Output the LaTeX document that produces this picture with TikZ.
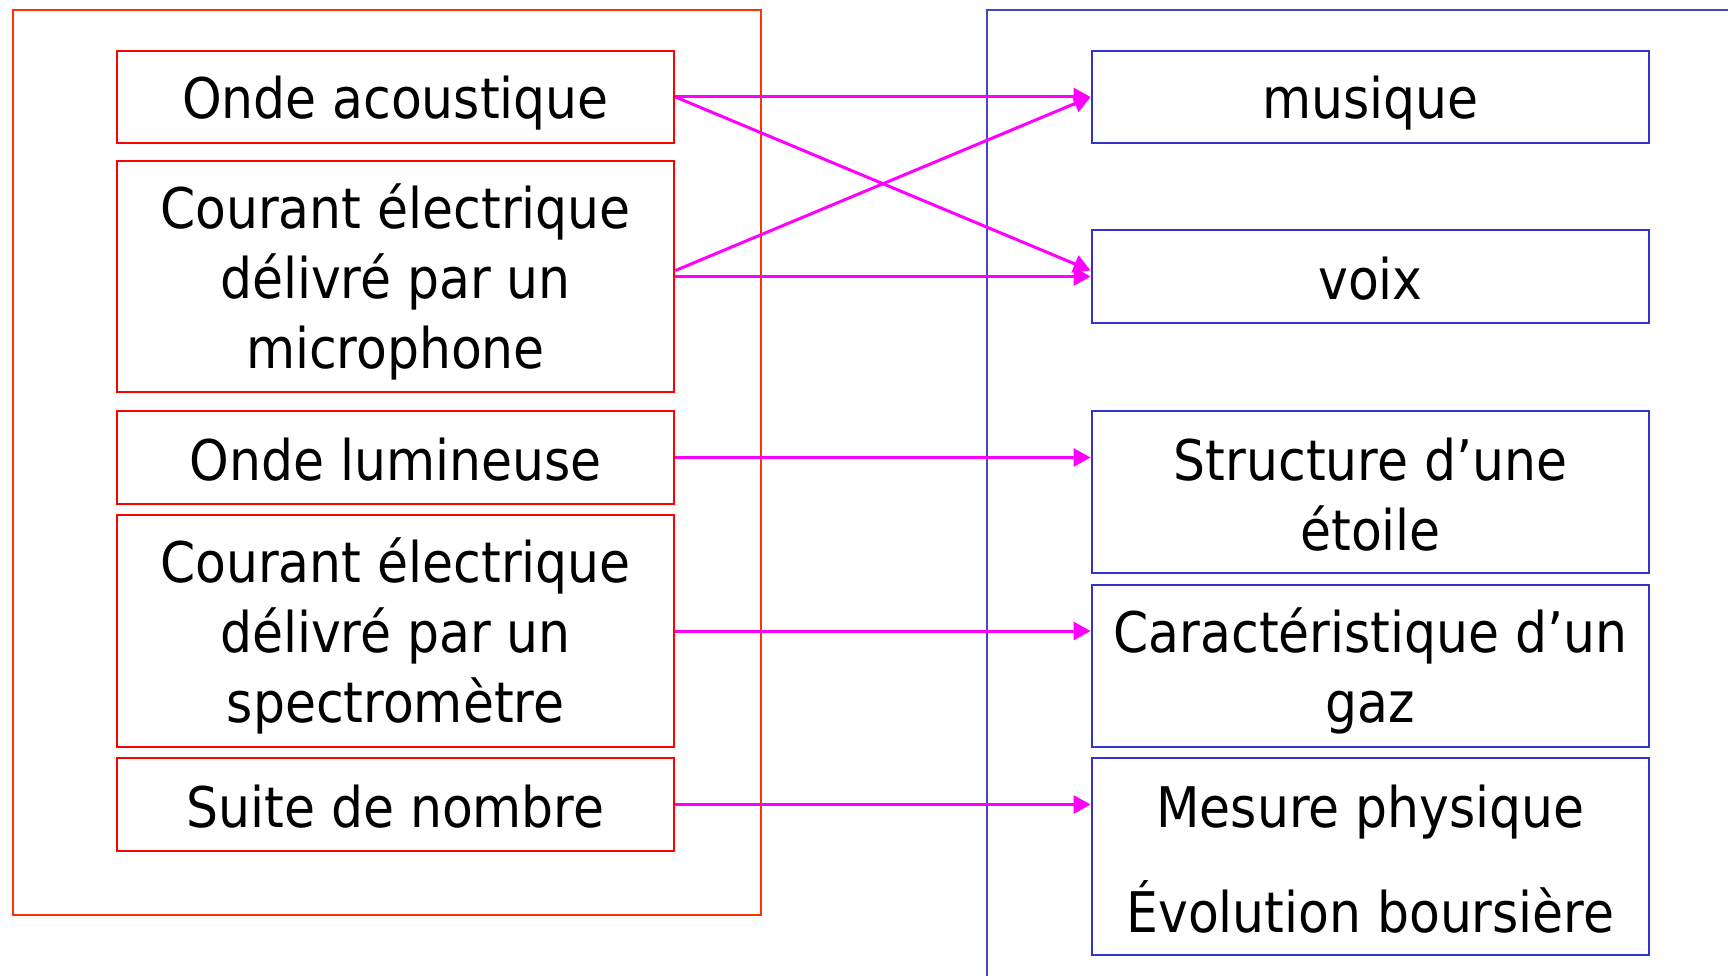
\documentclass[tikz,border=0pt]{standalone}
\usepackage{fontspec}
\setmainfont{DejaVu Sans Condensed}
\usetikzlibrary{arrows.meta}

\definecolor{framered}{HTML}{FF3300}
\definecolor{boxred}{HTML}{FF0000}
\definecolor{frameblue}{HTML}{4444CC}
\definecolor{boxblue}{HTML}{3333CC}
\definecolor{linkmagenta}{HTML}{FF00FF}

\newcommand\linestrut{\rule[-9pt]{0pt}{64pt}}

\begin{document}
\begin{tikzpicture}[x=1pt, y=-1pt,
    srcbox/.style = {draw=boxred, line width=2.8pt, inner sep=0pt,
                     minimum width=557pt, align=center,
                     font=\fontsize{56}{70}\selectfont,
                     execute at begin node=\linestrut,
                     execute at end node=\linestrut},
    dstbox/.style = {srcbox, draw=boxblue},
    link/.style   = {draw=linkmagenta, line width=3pt,
                     -{Triangle[length=17pt, width=18pt]}}]
  \useasboundingbox (0,0) rectangle (1728,976);

  % the two frames
  \draw [framered, line width=2.5pt]  (13,10) rectangle (761,915);
  \draw [frameblue, line width=2.5pt] (987,976) -- (987,10) -- (1728,10);

  % signals
  \node [srcbox, minimum height=92pt]  (acoustique) at (395.5,97)    {Onde acoustique};
  \node [srcbox, minimum height=231pt] (micro)      at (395.5,276.5) {\linestrut Courant électrique\\délivré par un\\microphone\linestrut};
  \node [srcbox, minimum height=93pt]  (lumineuse)  at (395.5,457.5) {Onde lumineuse};
  \node [srcbox, minimum height=232pt] (spectro)    at (395.5,631)   {\linestrut Courant électrique\\délivré par un\\spectromètre\linestrut};
  \node [srcbox, minimum height=93pt]  (suite)      at (395.5,804.5) {Suite de nombre};

  % informations
  \node [dstbox, minimum height=92pt]  (musique) at (1370.5,97)    {musique};
  \node [dstbox, minimum height=93pt]  (voix)    at (1370.5,276.5) {voix};
  \node [dstbox, minimum height=162pt] (etoile)  at (1370.5,492)   {\linestrut Structure d’une\\étoile\linestrut};
  \node [dstbox, minimum height=162pt] (gaz)     at (1370.5,666)   {\linestrut Caractéristique d’un\\gaz\linestrut};
  \node [dstbox, minimum height=197pt] (mesure)  at (1370.5,856.5) {\linestrut Mesure physique\\[35pt]Évolution boursière\linestrut};

  % links
  \draw [link] (acoustique.east) -- (musique.west);
  \draw [link] (acoustique.east) -- ([yshift=6pt]voix.west);
  \draw [link] ([yshift=6pt]micro.east) -- (musique.west);
  \draw [link] (micro.east) -- (voix.west);
  \draw [link] (lumineuse.east) -- (lumineuse.east -| etoile.west);
  \draw [link] (spectro.east) -- (spectro.east -| gaz.west);
  \draw [link] (suite.east) -- (suite.east -| mesure.west);
\end{tikzpicture}
\end{document}
